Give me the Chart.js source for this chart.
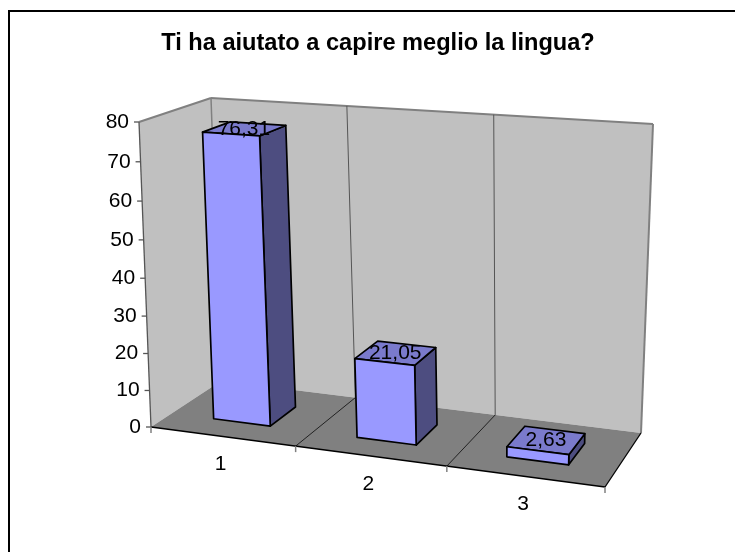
<!DOCTYPE html>
<html>
<head>
<meta charset="utf-8">
<style>
html, body { margin: 0; padding: 0; background: #fff; }
#chart { display: block; }
</style>
<script src="https://cdn.jsdelivr.net/npm/chart.js@4/dist/chart.umd.min.js"></script>
</head>
<body>
<canvas id="chart" width="735" height="552"></canvas>
<script>
const categories = ['1', '2', '3'];
const values = [76.31, 21.05, 2.63];
const valueLabels = ['76,31', '21,05', '2,63'];
const chartTitle = 'Ti ha aiutato a capire meglio la lingua?';

// corners of the 3d box on screen: front-left, front-right, back-right, back-left
const floorCorners = [[151, 427], [605, 487], [641, 433], [221, 381]];
const ceilCorners = [[139, 122], [616, 154], [653, 124], [211, 98]];
const barDepth = [0.28, 0.68];
const heightPersp = 1.05; // top of the box is a bit nearer the viewer
const textFont = '21px "Liberation Sans"';

function homography(q) {
    const [x0, y0] = q[0], [x1, y1] = q[1], [x2, y2] = q[2], [x3, y3] = q[3];
    const dx1 = x1 - x2, dx2 = x3 - x2, sx = x0 - x1 + x2 - x3;
    const dy1 = y1 - y2, dy2 = y3 - y2, sy = y0 - y1 + y2 - y3;
    const den = dx1 * dy2 - dx2 * dy1;
    const g = (sx * dy2 - dx2 * sy) / den;
    const h = (dx1 * sy - sx * dy1) / den;
    const a = x1 - x0 + g * x1, b = x3 - x0 + h * x3;
    const d = y1 - y0 + g * y1, e = y3 - y0 + h * y3;
    return (u, w) => {
        const k = g * u + h * w + 1;
        return [(a * u + b * w + x0) / k, (d * u + e * w + y0) / k];
    };
}
const floorMap = homography(floorCorners);
const ceilMap = homography(ceilCorners);

// u along categories, v up the value axis, w into the depth (all 0..1)
function project(u, v, w) {
    const p = floorMap(u, w), q = ceilMap(u, w);
    const t = v / (v + heightPersp * (1 - v));
    return [p[0] + (q[0] - p[0]) * t, p[1] + (q[1] - p[1]) * t];
}

function poly(ctx, pts, fill, stroke, lw) {
    ctx.beginPath();
    pts.forEach((p, i) => i ? ctx.lineTo(p[0], p[1]) : ctx.moveTo(p[0], p[1]));
    ctx.closePath();
    if (fill) { ctx.fillStyle = fill; ctx.fill(); }
    if (stroke) { ctx.strokeStyle = stroke; ctx.lineWidth = lw; ctx.stroke(); }
}

function line(ctx, a, b, color, lw) {
    ctx.beginPath();
    ctx.moveTo(a[0], a[1]);
    ctx.lineTo(b[0], b[1]);
    ctx.strokeStyle = color;
    ctx.lineWidth = lw;
    ctx.stroke();
}

const box3d = {
    id: 'box3d',
    beforeDatasetsDraw(chart) {
        const ctx = chart.ctx, area = chart.chartArea;
        const xs = chart.scales.x, ys = chart.scales.y;
        const toU = px => (px - area.left) / area.width;
        const toV = val => (area.bottom - ys.getPixelForValue(val)) / area.height;
        ctx.save();
        ctx.lineJoin = 'round';

        // outer frame, only left and top show
        line(ctx, [9, 11], [9, 552], '#000', 2);
        line(ctx, [8, 11], [735, 11], '#000', 2);

        // walls and floor
        poly(ctx, [project(0, 0, 0), project(0, 1, 0), project(0, 1, 1), project(0, 0, 1)], '#C0C0C0');
        poly(ctx, [project(0, 0, 1), project(0, 1, 1), project(1, 1, 1), project(1, 0, 1)], '#C0C0C0');
        poly(ctx, [project(0, 0, 0), project(1, 0, 0), project(1, 0, 1), project(0, 0, 1)], '#808080');
        line(ctx, project(0, 1, 0), project(0, 1, 1), '#808080', 2);
        line(ctx, project(0, 1, 1), project(1, 1, 1), '#808080', 2);
        line(ctx, project(1, 1, 1), project(1, 0, 1), '#808080', 2);
        line(ctx, project(0, 1, 1), project(0, 0, 1), '#808080', 1.5);

        // category dividers
        for (let i = 1; i < categories.length; i++) {
            const u = i / categories.length;
            line(ctx, project(u, 1, 1), project(u, 0, 1), '#555', 1);
            line(ctx, project(u, 0, 1), project(u, 0, 0), '#222', 1);
        }
        line(ctx, project(1, 0, 0), project(1, 0, 1), '#000', 1.3);
        line(ctx, project(0, 0, 0), project(1, 0, 0), '#000', 1.3);
        line(ctx, project(0, 0, 0), project(0, 1, 0), '#555', 1.3);

        ctx.font = textFont;
        ctx.fillStyle = '#000';
        ctx.textBaseline = 'middle';

        // value axis
        ys.ticks.forEach(t => {
            const p = project(0, toV(t.value), 0);
            line(ctx, [p[0] - 5, p[1]], p, '#555', 1.3);
            ctx.fillStyle = '#000';
            ctx.textAlign = 'right';
            ctx.fillText(String(t.value), p[0] - 10, p[1]);
        });

        // category axis
        for (let i = 0; i <= categories.length; i++) {
            const p = project(i / categories.length, 0, 0);
            line(ctx, p, [p[0], p[1] + 6], '#808080', 1.5);
        }
        categories.forEach((c, i) => {
            const p = project(toU(xs.getPixelForValue(i)), 0, 0);
            ctx.fillStyle = '#000';
            ctx.textAlign = 'center';
            ctx.fillText(c, p[0] - 2, p[1] + 28);
        });

        // bars
        const bars = chart.getDatasetMeta(0).data;
        bars.forEach(bar => {
            const u0 = toU(bar.x - bar.width / 2), u1 = toU(bar.x + bar.width / 2);
            const v = (area.bottom - bar.y) / area.height;
            const [w0, w1] = barDepth;
            const front = [project(u0, 0, w0), project(u1, 0, w0), project(u1, v, w0), project(u0, v, w0)];
            const side = [project(u1, 0, w0), project(u1, 0, w1), project(u1, v, w1), project(u1, v, w0)];
            const top = [project(u0, v, w0), project(u1, v, w0), project(u1, v, w1), project(u0, v, w1)];
            poly(ctx, side, '#4D4D80', '#000', 1.7);
            poly(ctx, top, '#7A7ACC', '#000', 1.7);
            poly(ctx, front, '#9999FF', '#000', 1.7);
        });

        // value labels sit on the bar tops
        bars.forEach((bar, i) => {
            const v = (area.bottom - bar.y) / area.height;
            const p = project(toU(bar.x), v, 0.47);
            ctx.fillStyle = '#000';
            ctx.textAlign = 'center';
            ctx.fillText(valueLabels[i], p[0], p[1]);
        });
        ctx.restore();
        return false; // bars are done above
    }
};

const chart = new Chart(document.getElementById('chart').getContext('2d'), {
    type: 'bar',
    data: {
        labels: categories,
        datasets: [{
            data: values,
            backgroundColor: '#9999FF',
            borderColor: '#000',
            barPercentage: 0.4,
            categoryPercentage: 1
        }]
    },
    options: {
        responsive: false,
        animation: false,
        layout: { padding: { left: 151, right: 130, bottom: 125 } },
        scales: {
            x: { display: false },
            y: { display: false, min: 0, max: 80, ticks: { stepSize: 10 } }
        },
        plugins: {
            legend: { display: false },
            tooltip: { enabled: false },
            title: {
                display: true,
                text: chartTitle,
                color: '#000',
                font: { family: '"Liberation Sans"', size: 23.6, weight: 'bold' },
                padding: { top: 29, bottom: 20 }
            }
        }
    },
    plugins: [box3d]
});
</script>
</body>
</html>
